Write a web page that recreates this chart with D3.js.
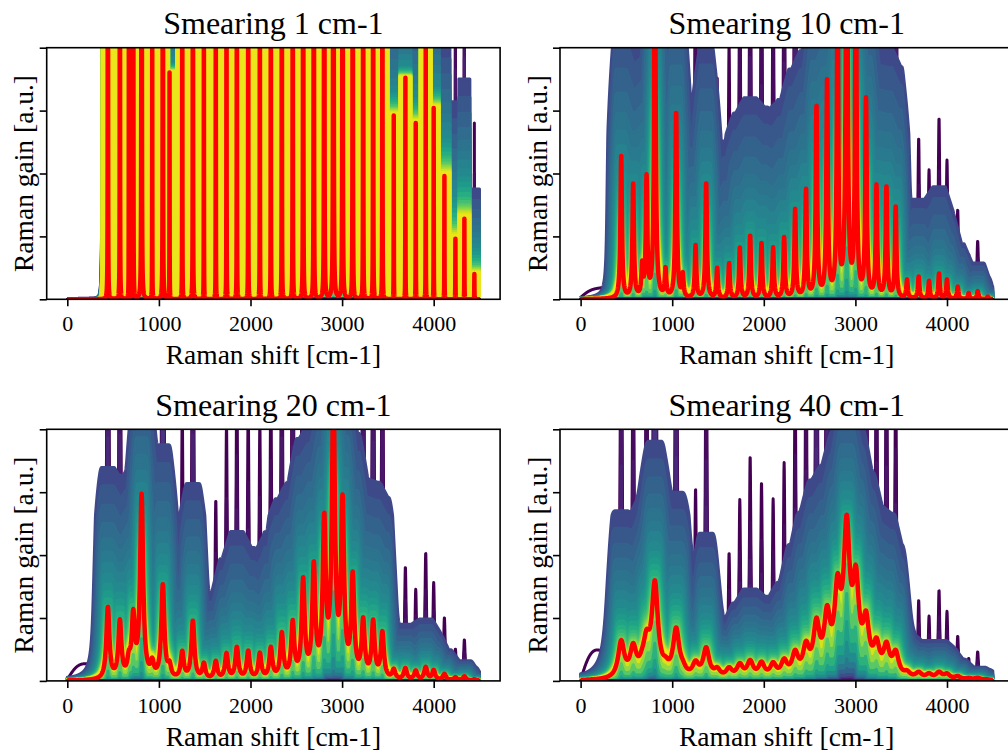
<!DOCTYPE html>
<head>
<meta charset="utf-8">
<script src="https://d3js.org/d3.v7.min.js"></script>
<style>
  body { margin:0; background:#fff; }
  text { font-family: "Liberation Serif", "Times New Roman", serif; fill:#000; }
</style>
</head>
<body>
<script>
// stick spectrum: peak positions (cm-1) and peak heights seen with 10 cm-1 smearing
var peakPos = [443, 574, 672, 720, 811, 927, 1043, 1116, 1255, 1371, 1491, 1621, 1738, 1851,
               1975, 2102, 2222, 2342, 2461, 2575, 2691, 2805, 2905, 3005, 3116, 3230, 3339,
               3440, 3564, 3691, 3804, 3913, 4000, 4117, 4237, 4335, 4444];
var peakInt = [0.57, 0.45, 0.12, 0.47, 1.45, 0.11, 0.74, 0.09, 0.21, 0.46, 0.12, 0.14, 0.20, 0.25,
               0.22, 0.20, 0.24, 0.35, 0.43, 0.76, 0.86, 1.20, 2.20, 1.35, 0.78, 0.44, 0.44,
               0.36, 0.073, 0.088, 0.070, 0.10, 0.076, 0.049, 0.024, 0.032, 0.010];

var smearings = [1, 10, 20, 40];
var titles = ["Smearing 1 cm-1", "Smearing 10 cm-1", "Smearing 20 cm-1", "Smearing 40 cm-1"];
var xTicks = [0, 1000, 2000, 3000, 4000];
var yTicks = [0, 0.25, 0.5, 0.75, 1];

// low frequency bump of the outermost curve (height at 10 cm-1, position of maximum)
var bumpTop = 0.029, bumpAt = 175;

// outermost spiky curves (gain at 10 cm-1, weakened for wider smearing)
var spikeGain  = [7, 5, 3.8, 3, 2.4, 2.0];
var spikeColor = [0.0, 0.03, 0.06, 0.09, 0.12, 0.15];
var spikeFade = 0.5;

// curves above the red one, outer to inner
var upBroaden = [0, 0, 1, 2, 3, 4, 5, 6, 7, 8, 9, 10, 11, 12, 13, 14, 15, 16, 17, 18];
var upReach   = [110, 100, 90, 82, 74, 66, 59, 52, 46, 40, 35, 30, 25, 20, 16, 12, 9, 6, 3, 0];
var upPower   = [0.38, 0.41, 0.44, 0.47, 0.50, 0.53, 0.56, 0.60, 0.64, 0.68,
                 0.72, 0.76, 0.80, 0.83, 0.86, 0.88, 0.90, 0.92, 0.94, 0.96];
var upGain    = [1.35, 1.28, 1.22, 1.16, 1.11, 1.07, 1.04, 1.02, 1, 1,
                 1, 1, 1, 1, 1, 1, 1, 1, 1, 1];
var upColor   = [0.22, 0.27, 0.31, 0.35, 0.38, 0.41, 0.44, 0.47, 0.50, 0.54,
                 0.58, 0.62, 0.66, 0.70, 0.74, 0.78, 0.83, 0.88, 0.93, 0.97];

// curves below the red one, outer to inner
var lowReach = [70, 64, 58, 52, 46, 40, 34, 28, 22, 16, 10, 4];
var lowPower = [6, 5, 4.2, 3.5, 3, 2.6, 2.2, 1.9, 1.6, 1.35, 1.18, 1.06];
var lowGain  = [0.6, 0.65, 0.7, 0.75, 0.8, 0.84, 0.88, 0.91, 0.94, 0.96, 0.98, 0.99];
var lowColor = [0.02, 0.08, 0.16, 0.24, 0.32, 0.40, 0.48, 0.56, 0.64, 0.74, 0.84, 0.94];

var W = 453.4, H = 251.6;
var corners = [[46.7, 47.7], [560, 47.7], [46.7, 429.3], [560, 429.3]];

var svg = d3.select("body").append("svg")
    .attr("width", 1008).attr("height", 753);

var x = d3.scaleLinear().domain([-225, 4725]).range([0, W]);
var y = d3.scaleLinear().domain([0, 1]).range([H, 0]);

function spectrum(xs, w, hs) {
  var out = new Float64Array(xs.length);
  for (var j = 0; j < peakPos.length; j++) {
    var a = peakInt[j] * hs, p = peakPos[j];
    for (var i = 0; i < xs.length; i++) {
      var dx = xs[i] - p;
      out[i] += a * w * w / (dx * dx + w * w);
    }
  }
  return out;
}

// running max / min / mean over +-r samples
function runOp(arr, r, op) {
  if (r <= 0) return arr;
  var out = new Float64Array(arr.length);
  for (var i = 0; i < arr.length; i++) {
    var lo = Math.max(0, i - r), hi = Math.min(arr.length - 1, i + r);
    var m = arr[lo], s = 0;
    for (var k = lo; k <= hi; k++) {
      if (op == "max" && arr[k] > m) m = arr[k];
      if (op == "min" && arr[k] < m) m = arr[k];
      s += arr[k];
    }
    out[i] = op == "mean" ? s / (hi - lo + 1) : m;
  }
  return out;
}

var eps = 0.15;
function lift(v, g) {
  return v >= eps ? Math.pow(v, g) : v * Math.pow(eps, g - 1);
}

smearings.forEach(function(gam, pi) {
  var step = gam < 5 ? 1 : 2;
  var xs = d3.range(0, 4500 + step / 2, step);
  var g = svg.append("g")
      .attr("transform", "translate(" + corners[pi][0] + "," + corners[pi][1] + ")");

  g.append("clipPath").attr("id", "clip" + pi)
    .append("rect").attr("width", W).attr("height", H);

  var red = spectrum(xs, gam, 10 / gam);
  var wn = Math.min(gam, 10);
  var narrow = spectrum(xs, wn, 10 / wn);
  var fade = Math.pow(wn / gam, spikeFade);

  var spikes = spikeGain.map(function(k, i) {
    var v = Array.from(narrow, function(d, n) {
      var val = d * k * fade;
      if (i == 0) {
        var u = xs[n] / (bumpAt * Math.sqrt(3));
        val += bumpTop * gam / 10 * (u / Math.pow(1 + u * u, 2)) / 0.3248;
      }
      return val;
    });
    return {v: v, c: spikeColor[i]};
  });

  var uppers = upPower.map(function(pw, i) {
    var m;
    if (gam < 5) {
      m = runOp(red, Math.round(60 / step), "max");
    } else {
      var wb = gam + upBroaden[i];
      var s = wb == gam ? red : spectrum(xs, wb, 10 / wb);
      m = runOp(s, Math.round(upReach[i] / step), "max");
      m = runOp(m, Math.round(upReach[i] / 2.5 / step), "mean");
    }
    return {v: Array.from(m, function(d) { return upGain[i] * lift(d, pw); }), c: upColor[i]};
  });

  var lowers = lowPower.map(function(pw, i) {
    var e = runOp(red, Math.round(lowReach[i] / step), "min");
    return {v: Array.from(e, function(d) {
              return lowGain[i] * d * Math.pow(Math.min(d, 1), pw - 1); }),
            c: lowColor[i]};
  }).reverse();

  var line = d3.line()
      .x(function(d, i) { return x(xs[i]); })
      .y(function(d) { return y(d); });
  var area = d3.area()
      .x(function(d, i) { return x(xs[i]); })
      .y0(H)
      .y1(function(d) { return y(d); });

  var plot = g.append("g").attr("clip-path", "url(#clip" + pi + ")");

  plot.selectAll("path.spike")
      .data(spikes)
      .enter().append("path")
      .attr("class", "spike")
      .attr("d", function(d) { return line(d.v); })
      .attr("fill", "none")
      .attr("stroke", function(d) { return d3.interpolateViridis(d.c); })
      .attr("stroke-width", 3)
      .attr("stroke-linejoin", "round");

  plot.selectAll("path.band")
      .data(uppers.concat(lowers))
      .enter().append("path")
      .attr("class", "band")
      .attr("d", function(d) { return area(d.v); })
      .attr("fill", function(d) { return d3.interpolateViridis(d.c); })
      .attr("stroke", function(d) { return d3.interpolateViridis(d.c); })
      .attr("stroke-width", 3)
      .attr("stroke-linejoin", "round");

  plot.append("path")
      .attr("d", line(Array.from(red)))
      .attr("fill", "none")
      .attr("stroke", "#ff0000")
      .attr("stroke-width", 4.5)
      .attr("stroke-linejoin", "round");

  // axes
  var xa = g.append("g").attr("transform", "translate(0," + H + ")")
      .call(d3.axisBottom(x).tickValues(xTicks).tickSize(7).tickSizeOuter(0).tickPadding(9.5)
            .tickFormat(d3.format("d")));
  var ya = g.append("g")
      .call(d3.axisLeft(y).tickValues(yTicks).tickSize(7).tickSizeOuter(0).tickFormat(""));
  [xa, ya].forEach(function(a) {
    a.select(".domain").remove();
    a.selectAll("line").attr("stroke", "#000").attr("stroke-width", 1.6);
    a.selectAll("text").style("font-size", "22px").attr("font-family", null);
  });

  g.append("rect").attr("width", W).attr("height", H)
      .attr("fill", "none").attr("stroke", "#000").attr("stroke-width", 1.6);

  g.append("text").attr("x", W / 2).attr("y", -13.5)
      .attr("text-anchor", "middle").style("font-size", "32px").text(titles[pi]);
  g.append("text").attr("x", W / 2).attr("y", H + 64.7)
      .attr("text-anchor", "middle").style("font-size", "27.5px").text("Raman shift [cm-1]");
  g.append("text")
      .attr("transform", "translate(-13.3," + (H / 2) + ") rotate(-90)")
      .attr("text-anchor", "middle").style("font-size", "27.5px").text("Raman gain [a.u.]");
});
</script>
</body>
